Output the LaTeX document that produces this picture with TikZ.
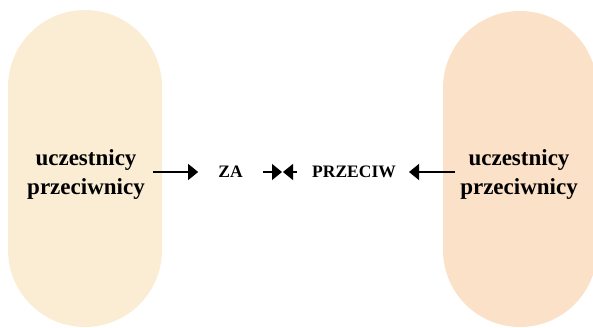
\documentclass[tikz,border=0pt]{standalone}
\usepackage{fontspec}
\setmainfont{Liberation Serif}
\usetikzlibrary{arrows.meta}
\definecolor{creamfill}{HTML}{FAEDD4}
\definecolor{peachfill}{HTML}{FBE1C8}
\begin{document}
\begin{tikzpicture}[x=1pt,y=-1pt,
  pill/.style={rounded corners=77pt},
  sidetext/.style={align=center,inner sep=0pt,font=\fontsize{23}{29}\selectfont\bfseries},
  vote/.style={inner sep=0pt,font=\fontsize{17.5}{20}\selectfont\bfseries},
  arr/.style={line width=1.2pt,-{Triangle[length=10pt,width=16pt]}}]
  \useasboundingbox (0,0) rectangle (593,328);
  \begin{scope}
    \clip (0,0) rectangle (593,328);
    % two side panels
    \fill[creamfill,pill] (8,10) rectangle (162,327);
    \fill[peachfill,pill] (443,11) rectangle (597,327);
  \end{scope}
  \node[sidetext] (L) at (86,174.5) {uczestnicy\\przeciwnicy};
  \node[sidetext] (R) at (519,174.5) {uczestnicy\\przeciwnicy};
  \node[vote] (za) at (230.5,172) {ZA};
  \node[vote] (pr) at (354,172) {PRZECIW};
  \coordinate (m) at (282.5,172);
  % connectors, all on one horizontal line
  \draw[arr] ([xshift=8pt]L.east |- za) -- ([xshift=-20pt]za.west);
  \draw[arr] ([xshift=20pt]za.east) -- ([xshift=-0.5pt]m);
  \draw[arr] ([xshift=-15pt]pr.west) -- ([xshift=0.5pt]m);
  \draw[arr] ([xshift=-5pt]R.west |- pr) -- ([xshift=13pt]pr.east);
\end{tikzpicture}
\end{document}
